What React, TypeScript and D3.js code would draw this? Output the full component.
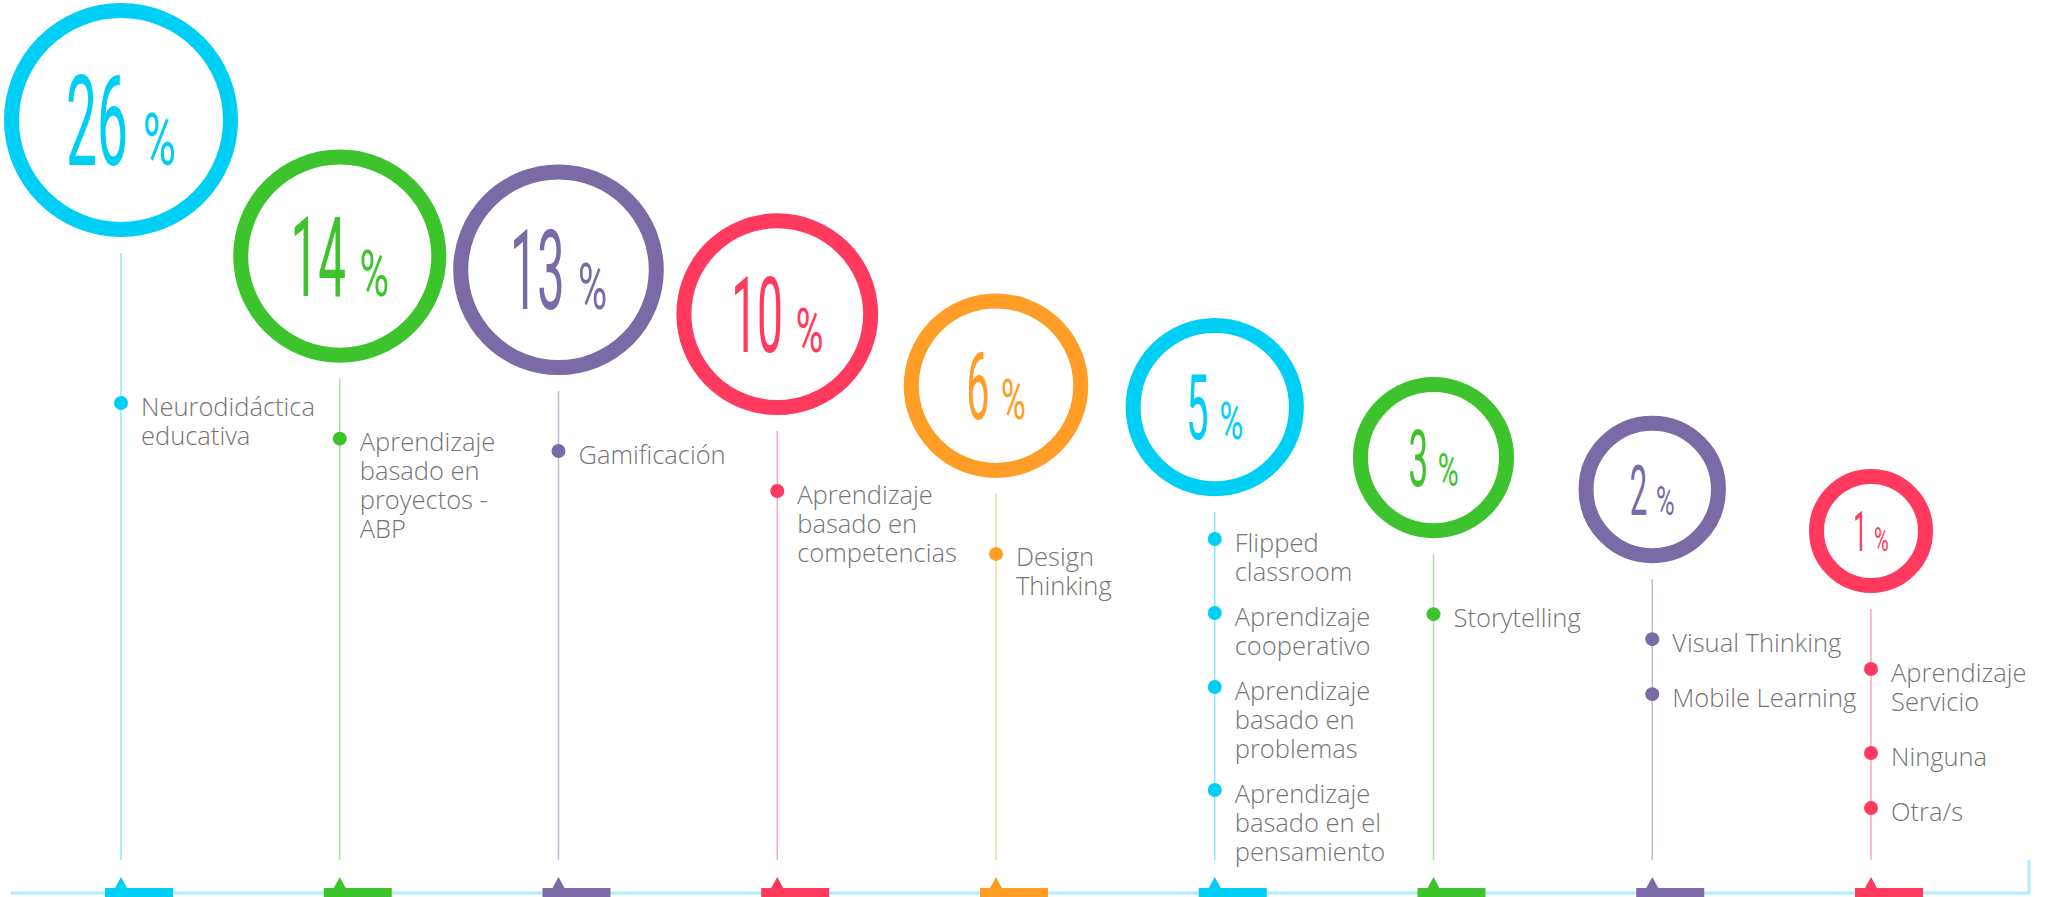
import React, { useEffect, useRef } from 'react';
import * as d3 from 'd3';

// Porcentaje de docentes por metodología
const shares = [26, 14, 13, 10, 6, 5, 3, 2, 1];

// Cada grupo: lista de metodologías, cada una partida en líneas como en el original
const methodGroups: string[][][] = [
  [['Neurodidáctica', 'educativa']],
  [['Aprendizaje', 'basado en', 'proyectos -', 'ABP']],
  [['Gamificación']],
  [['Aprendizaje', 'basado en', 'competencias']],
  [['Design', 'Thinking']],
  [
    ['Flipped', 'classroom'],
    ['Aprendizaje', 'cooperativo'],
    ['Aprendizaje', 'basado en', 'problemas'],
    ['Aprendizaje', 'basado en el', 'pensamiento'],
  ],
  [['Storytelling']],
  [['Visual Thinking'], ['Mobile Learning']],
  [['Aprendizaje', 'Servicio'], ['Ninguna'], ['Otra/s']],
];

const ringColors = ['#00cff5', '#3dc42c', '#7a6aa6', '#ff3a5e', '#ff9d26', '#00cff5', '#3dc42c', '#7a6aa6', '#ff3a5e'];

const WIDTH = 2055;
const HEIGHT = 897;

export default function App() {
  const svgRef = useRef<SVGSVGElement>(null);

  useEffect(() => {
    if (!svgRef.current) return;
    const svg = d3.select(svgRef.current);
    svg.selectAll('*').remove();

    const idx = shares.map((_, i) => i);
    const x = d3.scalePoint<number>().domain(idx).range([121, 1871]);
    const radius = d3.scaleLog().domain([1, 26]).range([62, 117]);
    const cy = d3.scaleSqrt().domain([1, 26]).range([531, 120]);
    const digitH = d3.scaleLog().domain([1, 26]).range([40, 89]);
    const color = d3.scaleOrdinal<number, string>().domain(idx).range(ringColors);

    const lineBottom = 860;
    const baseY = 893;
    const lineH = 29;
    const labelFloor = 403;

    // línea base + corchete derecho
    svg.append('path')
      .attr('d', `M11,${baseY}H2029V${lineBottom}`)
      .attr('fill', 'none')
      .attr('stroke', '#00cff5')
      .attr('stroke-opacity', 0.33)
      .attr('stroke-width', 3);

    idx.forEach(i => {
      const v = shares[i];
      const cx = x(i)!;
      const c = color(i);
      const r = radius(v);
      const y0 = cy(v);
      const lineTop = y0 + r + 16;

      // anillo
      svg.append('circle')
        .attr('cx', cx)
        .attr('cy', y0)
        .attr('r', r - 7.5)
        .attr('fill', 'none')
        .attr('stroke', c)
        .attr('stroke-width', 15);

      // número + %
      const h = digitH(v);
      const g = svg.append('g').attr('transform', `translate(${cx},${y0})`);
      const sx1 = 0.44;
      const sx2 = 0.62;
      const num = g.append('text')
        .attr('font-family', 'Roboto, sans-serif')
        .attr('font-weight', 400)
        .attr('font-size', h / 0.711)
        .attr('fill', c)
        .text(String(v));
      const pct = g.append('text')
        .attr('font-family', 'Roboto, sans-serif')
        .attr('font-weight', 400)
        .attr('font-size', (h * 0.58) / 0.711)
        .attr('fill', c)
        .text('%');
      const w1 = (num.node() as SVGTextElement).getComputedTextLength() * sx1;
      const w2 = (pct.node() as SVGTextElement).getComputedTextLength() * sx2;
      const gap = h * 0.17;
      const start = -(w1 + gap + w2) / 2;
      num.attr('transform', `translate(${start},${h / 2}) scale(${sx1},1)`);
      pct.attr('transform', `translate(${start + w1 + gap},${h / 2}) scale(${sx2},1)`);

      // guía vertical
      svg.append('line')
        .attr('x1', cx).attr('x2', cx)
        .attr('y1', lineTop).attr('y2', lineBottom)
        .attr('stroke', c)
        .attr('stroke-opacity', 0.45)
        .attr('stroke-width', 1.5);

      // etiquetas
      const items = methodGroups[i];
      const itemGap = items.length > 3 ? 16 : 26;
      let span = 0;
      items.forEach((it, k) => {
        span += k < items.length - 1 ? it.length * lineH + itemGap : (it.length - 1) * lineH + 12;
      });
      let yy = Math.min(Math.max(lineTop + 60, labelFloor), lineBottom - span);
      items.forEach(lines => {
        svg.append('circle')
          .attr('cx', cx)
          .attr('cy', yy)
          .attr('r', 7)
          .attr('fill', c);
        const t = svg.append('text')
          .attr('x', cx + 20)
          .attr('y', yy + 12.5)
          .attr('font-family', '"Open Sans", sans-serif')
          .attr('font-weight', 300)
          .attr('font-size', 25.5)
          .attr('fill', '#747474');
        lines.forEach((ln, j) => {
          t.append('tspan')
            .attr('x', cx + 20)
            .attr('dy', j === 0 ? 0 : lineH)
            .text(ln);
        });
        yy += lines.length * lineH + itemGap;
      });

      // marcador inferior
      svg.append('rect')
        .attr('x', cx - 16)
        .attr('y', 888)
        .attr('width', 68)
        .attr('height', 12)
        .attr('fill', c);
      svg.append('path')
        .attr('d', `M${cx - 6},888L${cx},877L${cx + 6},888Z`)
        .attr('fill', c);
    });
  }, []);

  return (
    <svg
      ref={svgRef}
      width={WIDTH}
      height={HEIGHT}
      style={{ position: 'absolute', left: 0, top: 0, background: '#fff' }}
    />
  );
}
